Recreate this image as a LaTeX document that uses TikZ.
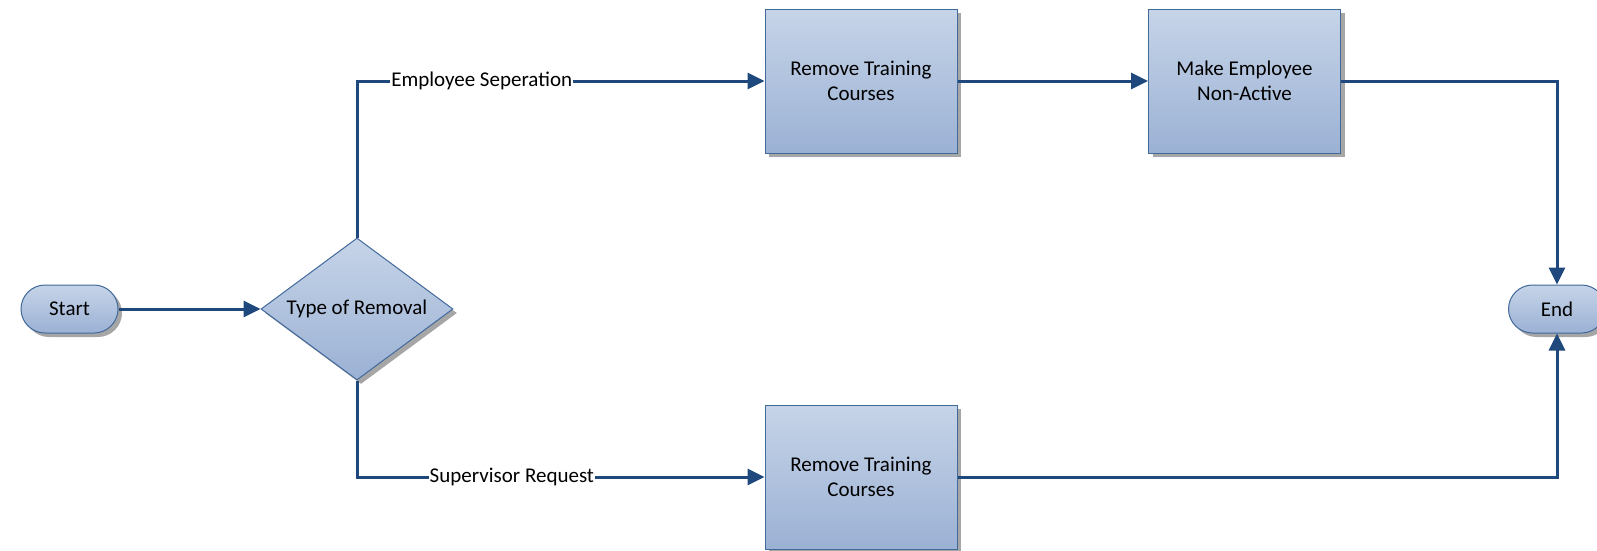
\documentclass[tikz,border=0pt]{standalone}
\usepackage{fontspec}
\setmainfont{Carlito}
\usetikzlibrary{shapes.geometric,arrows.meta,shadows}
\definecolor{lineblue}{HTML}{1F497D}
\definecolor{edgeblue}{HTML}{41699A}
\definecolor{filltop}{HTML}{C6D4E8}
\definecolor{fillbot}{HTML}{9BB1D4}
\tikzset{
  x=1pt,y=1pt,
  every node/.style={font=\fontsize{21}{25.5}\selectfont, text=black},
  shapebase/.style={draw=edgeblue, line width=1pt, top color=filltop, bottom color=fillbot,
    general shadow={fill=black!35, shadow xshift=4pt, shadow yshift=-4pt}, align=center, inner sep=0pt},
  procbox/.style={shapebase, rectangle, minimum width=192pt, minimum height=144pt},
  term/.style={shapebase, rectangle, rounded corners=24pt, minimum width=97pt, minimum height=48pt},
  decision/.style={shapebase, diamond, aspect=1.35, minimum width=192pt, minimum height=142pt},
  flow/.style={draw=lineblue, line width=3pt, -{Triangle[length=17pt,width=16pt]}},
  lbl/.style={fill=white, inner sep=1pt, text=black}
}
\begin{document}
\begin{tikzpicture}
\useasboundingbox (0,0) rectangle (1597,-550);
\node[term] (start) at (69.5,-309) {Start};
\node[decision] (dec) at (357,-309) {Type of Removal};
\node[procbox] (rt1) at (861,-81) {Remove Training\\Courses};
\node[procbox] (mk) at (1244.5,-81) {Make Employee\\Non-Active};
\node[procbox] (rt2) at (861,-477) {Remove Training\\Courses};
\node[term] (end) at (1557,-309) {End};
\draw[flow] (start.east) -- (dec.west);
\draw[flow] (dec.north) |- node[lbl, pos=0.653] {Employee Seperation} (rt1.west);
\draw[flow] (dec.south) |- node[lbl, pos=0.69] {Supervisor Request} (rt2.west);
\draw[flow] (rt1.east) -- (mk.west);
\draw[flow] (mk.east) -| (end.north);
\draw[flow] (rt2.east) -| (end.south);
\end{tikzpicture}
\end{document}
